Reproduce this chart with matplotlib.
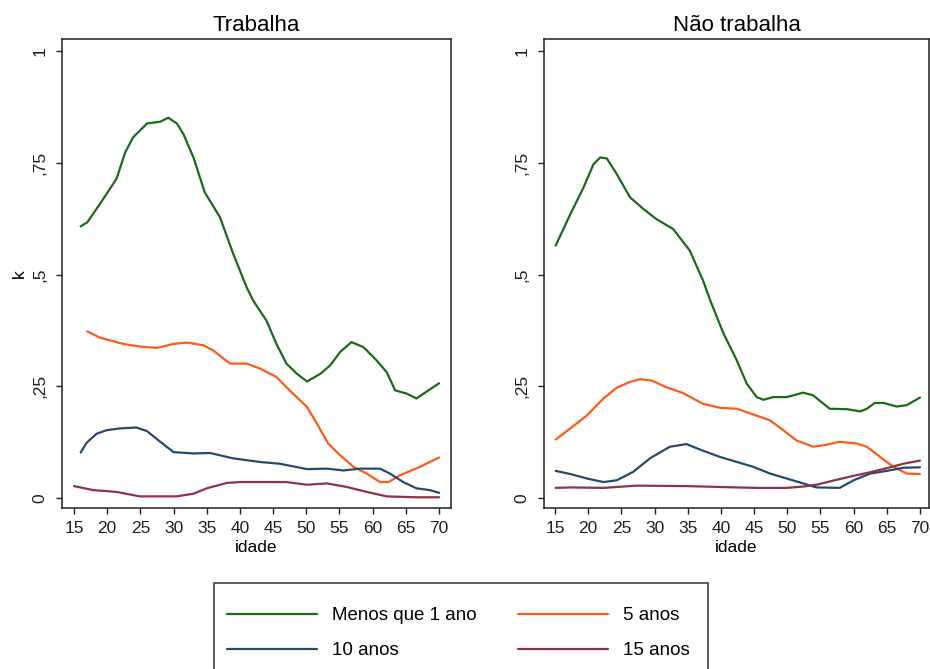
import matplotlib
matplotlib.use("Agg")
import matplotlib.pyplot as plt
from matplotlib.patches import Rectangle

plt.rcParams["font.family"] = ["Liberation Sans", "DejaVu Sans"]

# idade (x) and k (y), one pair of arrays per curve
# --- Trabalha ---
t_menos_x = [16.0, 17.0, 18.9, 21.4, 22.7, 23.9, 26.0, 28.0, 29.2, 30.5, 31.5, 33.0, 34.7,
             37.0, 39.0, 41.0, 42.0, 44.0, 45.5, 47.0, 48.6, 50.1, 52.1, 53.6, 55.1, 56.8,
             58.6, 60.6, 62.1, 63.4, 65.1, 66.6, 68.4, 70.0]
t_menos_y = [0.608, 0.617, 0.658, 0.714, 0.773, 0.807, 0.838, 0.842, 0.851, 0.838, 0.814,
             0.762, 0.684, 0.628, 0.546, 0.472, 0.442, 0.397, 0.345, 0.301, 0.278, 0.261,
             0.278, 0.297, 0.327, 0.349, 0.338, 0.308, 0.282, 0.241, 0.234, 0.223, 0.241,
             0.257]
t_5_x = [17.0, 18.9, 22.4, 24.9, 27.5, 30.0, 32.0, 34.5, 36.0, 38.5, 41.0, 43.0, 45.5,
         47.5, 50.1, 51.6, 53.3, 55.1, 57.1, 59.1, 61.1, 62.4, 64.1, 67.1, 70.0]
t_5_y = [0.373, 0.359, 0.345, 0.339, 0.336, 0.345, 0.348, 0.342, 0.330, 0.301, 0.301,
         0.290, 0.271, 0.241, 0.204, 0.167, 0.122, 0.096, 0.070, 0.055, 0.036, 0.036,
         0.051, 0.070, 0.091]
t_10_x = [16.0, 16.9, 18.4, 19.9, 21.9, 24.4, 26.0, 28.0, 30.0, 33.0, 35.5, 39.0, 43.0,
          46.0, 50.1, 53.1, 55.6, 58.1, 61.1, 62.6, 64.6, 66.6, 68.6, 70.0]
t_10_y = [0.102, 0.124, 0.144, 0.152, 0.156, 0.158, 0.150, 0.126, 0.103, 0.100, 0.101,
          0.089, 0.081, 0.077, 0.065, 0.066, 0.062, 0.066, 0.066, 0.055, 0.036, 0.022,
          0.018, 0.012]
t_15_x = [15.0, 17.9, 21.4, 24.9, 30.5, 33.0, 35.0, 38.0, 40.0, 47.0, 50.1, 53.1, 56.1,
          59.1, 62.1, 66.6, 70.0]
t_15_y = [0.027, 0.018, 0.014, 0.004, 0.004, 0.010, 0.022, 0.034, 0.036, 0.036, 0.030,
          0.033, 0.025, 0.014, 0.004, 0.002, 0.002]

# --- Não trabalha ---
n_menos_x = [15.1, 17.3, 19.3, 20.8, 21.8, 22.8, 24.3, 26.3, 28.3, 30.3, 32.8, 35.3, 37.3,
             38.4, 40.4, 42.4, 43.9, 45.4, 46.4, 47.9, 49.9, 52.4, 53.9, 56.4, 59.0, 61.0,
             62.0, 63.2, 64.5, 66.5, 68.0, 70.0]
n_menos_y = [0.565, 0.635, 0.695, 0.747, 0.762, 0.760, 0.725, 0.673, 0.647, 0.624, 0.602,
             0.554, 0.487, 0.442, 0.368, 0.308, 0.256, 0.226, 0.220, 0.226, 0.226, 0.236,
             0.230, 0.200, 0.199, 0.194, 0.200, 0.213, 0.213, 0.205, 0.208, 0.225]
n_5_x = [15.1, 17.3, 19.8, 22.3, 24.3, 26.3, 27.8, 29.6, 31.8, 34.3, 37.3, 39.9, 42.4,
         44.9, 47.4, 49.4, 51.4, 53.9, 55.4, 57.9, 60.5, 62.0, 64.0, 66.0, 68.0, 70.0]
n_5_y = [0.131, 0.156, 0.185, 0.223, 0.247, 0.260, 0.266, 0.263, 0.248, 0.235, 0.211,
         0.202, 0.200, 0.187, 0.174, 0.152, 0.129, 0.115, 0.118, 0.126, 0.122, 0.115,
         0.092, 0.070, 0.055, 0.054]
n_10_x = [15.1, 17.3, 19.8, 22.3, 24.3, 26.8, 29.3, 32.3, 34.8, 36.8, 39.9, 42.4, 44.9,
          47.4, 49.9, 52.4, 54.4, 57.9, 60.0, 62.5, 65.0, 67.5, 70.0]
n_10_y = [0.061, 0.054, 0.044, 0.036, 0.040, 0.059, 0.089, 0.115, 0.121, 0.109, 0.092,
          0.081, 0.070, 0.055, 0.044, 0.033, 0.024, 0.023, 0.040, 0.055, 0.061, 0.068,
          0.069]
n_15_x = [15.1, 17.3, 22.3, 27.3, 34.8, 42.4, 45.4, 49.9, 52.4, 54.4, 57.4, 60.0, 62.5,
          65.0, 67.5, 70.0]
n_15_y = [0.023, 0.024, 0.023, 0.028, 0.027, 0.024, 0.023, 0.023, 0.026, 0.030, 0.041,
          0.050, 0.058, 0.067, 0.077, 0.084]

series_labels = ["Menos que 1 ano", "5 anos", "10 anos", "15 anos"]
series_colors = ["#1b6a1b", "#ff5a1a", "#264a6e", "#8c3344"]
x_ticks = [15, 20, 25, 30, 35, 40, 45, 50, 55, 60, 65, 70]
y_ticks = [0, 0.25, 0.5, 0.75, 1]
y_ticklabels = ["0", ",25", ",5", ",75", "1"]

panels = [
    ("Trabalha", [(t_menos_x, t_menos_y), (t_5_x, t_5_y), (t_10_x, t_10_y), (t_15_x, t_15_y)]),
    ("Não trabalha", [(n_menos_x, n_menos_y), (n_5_x, n_5_y), (n_10_x, n_10_y), (n_15_x, n_15_y)]),
]

W, H = 930, 669
fig = plt.figure(figsize=(W / 100, H / 100), dpi=100)

# axes boxes in pixels: (left, right, bottom, top) and matching x limits
boxes = [(62, 451, 508, 39), (544, 929, 508, 39)]
xlims = [(13.19, 71.8), (13.34, 71.36)]

handles = []
for i, (title, curves) in enumerate(panels):
    l, r, b, t = boxes[i]
    ax = fig.add_axes([l / W, 1 - b / H, (r - l) / W, (b - t) / H])
    for (xs, ys), color, lab in zip(curves, series_colors, series_labels):
        line, = ax.plot(xs, ys, color=color, lw=1.6, label=lab,
                        solid_joinstyle="round", solid_capstyle="round")
        if i == 0:
            handles.append(line)
    ax.set_xlim(*xlims[i])
    ax.set_ylim(-0.022, 1.027)
    ax.set_xticks(x_ticks)
    ax.set_yticks(y_ticks)
    ax.set_yticklabels(y_ticklabels, rotation=90, va="center")
    ax.tick_params(axis="both", direction="out", length=4.5, width=1, labelsize=12.5,
                   colors="#202020", pad=5)
    ax.tick_params(axis="y", pad=6)
    for sp in ax.spines.values():
        sp.set_linewidth(1.1)
        sp.set_color("#202020")
    ax.set_title(title, fontsize=16, pad=6)
    ax.set_xlabel("idade", fontsize=12.5, labelpad=3)
    if i == 0:
        ax.set_ylabel("k", fontsize=12.5, labelpad=4)

# legend frame runs past the bottom of the image
fig.patches.append(Rectangle((214 / W, -0.05), (708 - 214) / W, (669 - 583) / H + 0.05,
                             transform=fig.transFigure, fill=False, ec="#303030", lw=1.1))
# two columns filled column-wise: rows read Menos | 5 anos, 10 anos | 15 anos
order = [0, 2, 1, 3]
fig.legend([handles[k] for k in order], [series_labels[k] for k in order],
           loc="upper left", bbox_to_anchor=(0.244, 1 - 607 / H),
           ncol=2, frameon=False, fontsize=13.5, handlelength=4.8, handletextpad=0.8,
           columnspacing=2.2, labelspacing=0.97, borderpad=0, borderaxespad=0)

fig.savefig("out.png", dpi=100)
